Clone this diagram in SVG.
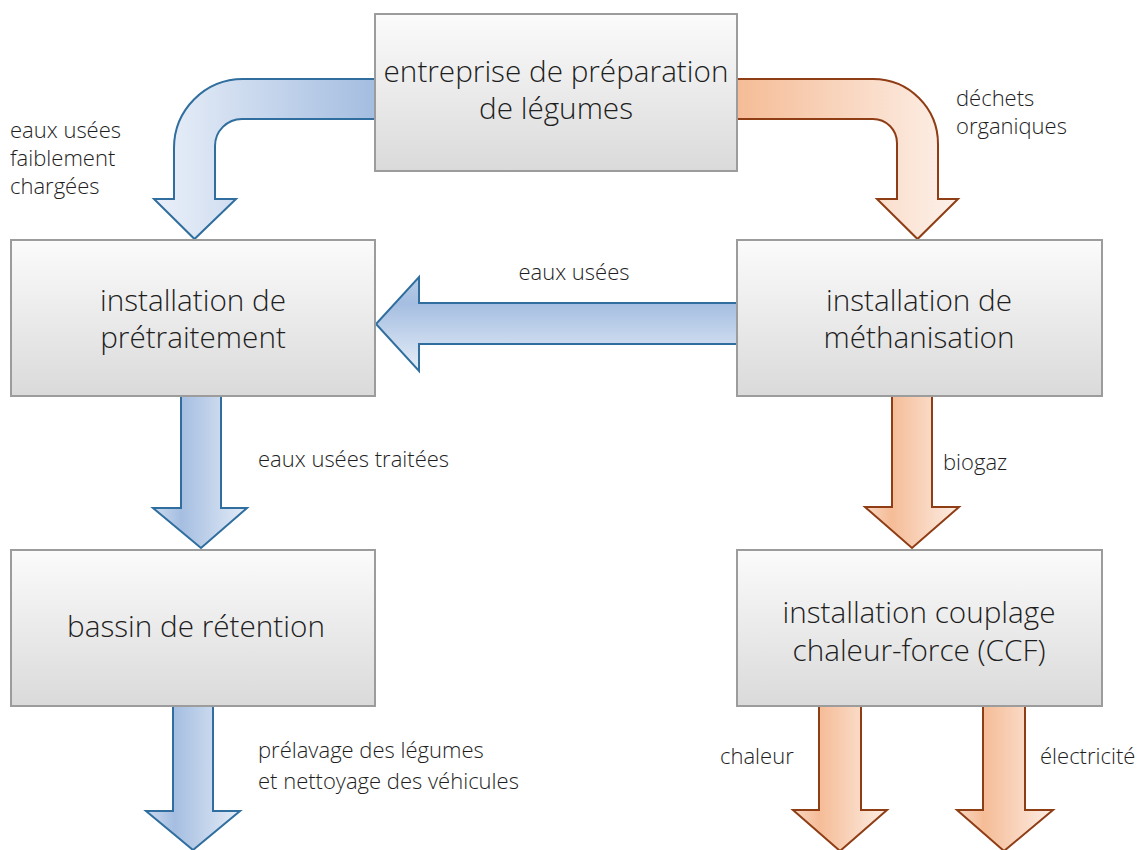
<svg xmlns="http://www.w3.org/2000/svg" width="1139" height="850" viewBox="0 0 1139 850">
<defs>
<linearGradient id="boxg" x1="0" y1="0" x2="0" y2="1">
<stop offset="0" stop-color="#fbfbfb"/><stop offset="1" stop-color="#dadada"/>
</linearGradient>
<linearGradient id="bdown" x1="0" y1="0" x2="1" y2="0">
<stop offset="0" stop-color="#cddbef"/><stop offset="0.3" stop-color="#a5bee1"/><stop offset="1" stop-color="#e4ecf7"/>
</linearGradient>
<linearGradient id="odown" x1="0" y1="0" x2="1" y2="0">
<stop offset="0" stop-color="#f9d8c4"/><stop offset="0.28" stop-color="#f5bc97"/><stop offset="1" stop-color="#fdeee5"/>
</linearGradient>
<linearGradient id="btl" gradientUnits="userSpaceOnUse" x1="154" y1="0" x2="375" y2="0">
<stop offset="0" stop-color="#eaf0f9"/><stop offset="1" stop-color="#a4bde0"/>
</linearGradient>
<linearGradient id="otr" gradientUnits="userSpaceOnUse" x1="737" y1="0" x2="958" y2="0">
<stop offset="0" stop-color="#f5bc96"/><stop offset="1" stop-color="#fdf1ea"/>
</linearGradient>
<linearGradient id="bh" gradientUnits="userSpaceOnUse" x1="0" y1="277" x2="0" y2="371">
<stop offset="0" stop-color="#b8cbe7"/><stop offset="0.28" stop-color="#a5bee1"/><stop offset="1" stop-color="#e6eef8"/>
</linearGradient>
</defs>
<style>
.blue{stroke:#2f6e9e;stroke-width:2;stroke-linejoin:miter}
.orange{stroke:#8f3d15;stroke-width:2;stroke-linejoin:miter}
.box{fill:url(#boxg);stroke:#9c9c9c;stroke-width:2}
.bt{font-family:"Open Sans","Noto Sans","DejaVu Sans",sans-serif;font-size:29.7px;font-weight:300;fill:#1e1e1e;text-anchor:middle}
.lb{font-family:"Open Sans","Noto Sans","DejaVu Sans",sans-serif;font-size:22px;font-weight:300;fill:#1e1e1e}
</style>
<g id="connectors">
<path class="blue" fill="url(#btl)" d="M375,79 L243,79 A69,69 0 0 0 174,148 L174,199 L154,199 L194.5,239 L236,199 L215,199 L215,146 A27,27 0 0 1 242,119 L375,119 Z"/>
<path class="orange" fill="url(#otr)" d="M737,79 L873,79 A65,65 0 0 1 938,144 L938,199 L958,199 L917.5,239 L877,199 L897,199 L897,143 A24,24 0 0 0 873,119 L737,119 Z"/>
<path class="blue" fill="url(#bh)" d="M737,303 L419,303 L419,277 L376,324 L419,371 L419,344 L737,344 Z"/>
<path class="blue" fill="url(#bdown)" d="M181,396 L181,508 L153,508 L201,548 L247,508 L221,508 L221,396 Z"/>
<path class="blue" fill="url(#bdown)" d="M173,706 L173,811 L146,811 L193,850 L240,811 L213,811 L213,706 Z"/>
<path class="orange" fill="url(#odown)" d="M892,396 L892,507 L865,507 L912,548 L959,507 L932,507 L932,396 Z"/>
<path class="orange" fill="url(#odown)" d="M819,706 L819,810 L793,810 L840,851 L887,810 L861,810 L861,706 Z"/>
<path class="orange" fill="url(#odown)" d="M983,706 L983,810 L957,810 L1004,851 L1053,810 L1025,810 L1025,706 Z"/>
<text class="lb" x="10" y="138">eaux usées</text>
<text class="lb" x="10" y="166">faiblement</text>
<text class="lb" x="10" y="194">chargées</text>
<text class="lb" x="956" y="106">déchets</text>
<text class="lb" x="956" y="134">organiques</text>
<text class="lb" x="574" y="280" text-anchor="middle">eaux usées</text>
<text class="lb" x="258" y="467">eaux usées traitées</text>
<text class="lb" x="943" y="470">biogaz</text>
<text class="lb" x="258" y="758">prélavage des légumes</text>
<text class="lb" x="258" y="789">et nettoyage des véhicules</text>
<text class="lb" x="720" y="764">chaleur</text>
<text class="lb" x="1040" y="764">électricité</text>
</g>
<g id="node-entreprise">
<rect class="box" x="375" y="14" width="362" height="157"/>
<text class="bt" x="556" y="82">entreprise de préparation</text>
<text class="bt" x="556" y="119">de légumes</text>
</g>
<g id="node-pretraitement">
<rect class="box" x="11" y="240" width="364" height="156"/>
<text class="bt" x="193" y="311">installation de</text>
<text class="bt" x="193" y="348">prétraitement</text>
</g>
<g id="node-methanisation">
<rect class="box" x="737" y="240" width="365" height="156"/>
<text class="bt" x="919" y="311">installation de</text>
<text class="bt" x="919" y="348">méthanisation</text>
</g>
<g id="node-bassin">
<rect class="box" x="11" y="550" width="364" height="156"/>
<text class="bt" x="196" y="637">bassin de rétention</text>
</g>
<g id="node-ccf">
<rect class="box" x="737" y="550" width="365" height="156"/>
<text class="bt" x="919" y="623">installation couplage</text>
<text class="bt" x="919" y="661">chaleur-force (CCF)</text>
</g>
</svg>
